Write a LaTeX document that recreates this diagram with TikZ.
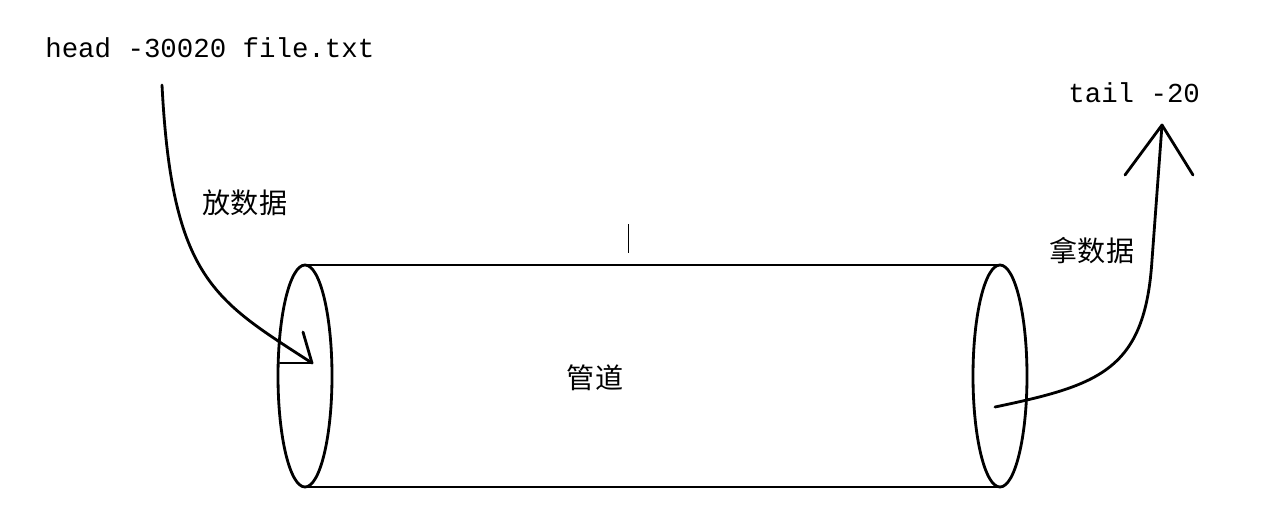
\documentclass[tikz,border=0pt]{standalone}
\usepackage{fontspec}
\setmonofont{Liberation Mono}
\newfontfamily\cjk{Noto Sans CJK SC}
\usetikzlibrary{positioning}
\tikzstyle{cmd}=[font=\ttfamily\fontsize{15.6}{18}\selectfont,inner sep=0pt]
\tikzstyle{lbl}=[font=\cjk\fontsize{16}{18}\selectfont,inner sep=0pt]
\tikzstyle{pipe}=[line width=1.6pt]
\tikzstyle{flow}=[line width=1.6pt,line cap=round,line join=round]

\begin{document}
\begin{tikzpicture}[x=0.02cm,y=-0.02cm]
  \useasboundingbox (0,0) rectangle (1288,525);

  \node[cmd,anchor=west] (head) at (45,48) {head -30020 file.txt};
  \node[cmd,anchor=west] (tail) at (1068,93) {tail -20};
  \node[lbl] (put) at (245,203) {放数据};
  \node[lbl] (take) at (1092,251) {拿数据};
  \node[lbl] (tube) at (595,378) {管道};

  % pipe
  \coordinate (lt) at (305,265);
  \coordinate (rt) at (1003,265);
  \coordinate (lb) at (305,487);
  \coordinate (rb) at (1003,487);
  \draw[pipe] (lt) -- (rt);
  \draw[pipe] (lb) -- (rb);
  \draw[pipe] (305,376) ellipse (27 and 111);
  \draw[pipe] (1000,376) ellipse (27 and 111);
  \draw[thin] (628,224) -- (628,253);

  % put data in
  \coordinate (src) at (162,85);
  \coordinate (in) at (312,363);
  \draw[flow] (src) .. controls (172,280) and (215,300) .. (in);
  \draw[flow] (in) -- (303,332);
  \draw[flow] (in) -- (280,363);

  % take data out
  \coordinate (out) at (995,407);
  \coordinate (bend) at (1152,260);
  \coordinate (tip) at (1162,125);
  \draw[flow] (out) .. controls (1100,385) and (1145,370) .. (bend) -- (tip);
  \draw[flow] (tip) -- (1125,175);
  \draw[flow] (tip) -- (1193,175);
\end{tikzpicture}
\end{document}
